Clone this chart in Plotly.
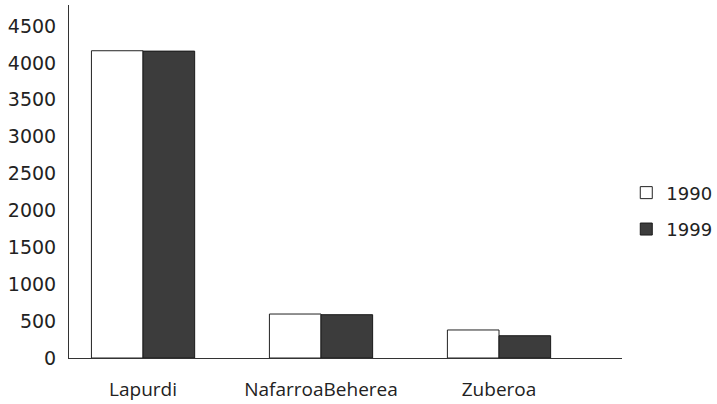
import plotly.graph_objects as go

categories = ["Lapurdi", "NafarroaBeherea", "Zuberoa"]
values_1990 = [4165, 596, 380]
values_1999 = [4160, 587, 302]
series_names = ["1990", "1999"]

fig = go.Figure()
fig.add_trace(go.Bar(
    x=categories, y=values_1990, name=series_names[0], legendgroup="a",
    marker=dict(color="white", line=dict(color="#222222", width=1)),
))
fig.add_trace(go.Bar(
    x=categories, y=values_1999, name=series_names[1], legendgroup="b",
    marker=dict(color="#3c3c3c", line=dict(color="#1a1a1a", width=1)),
))

fig.update_layout(
    width=717, height=404,
    margin=dict(l=69, r=0, t=5, b=46, autoexpand=False),
    paper_bgcolor="white", plot_bgcolor="white",
    barmode="group", bargap=0.42, bargroupgap=0,
    font=dict(family="Open Sans", size=19, color="#222222"),
    legend=dict(x=0.860, y=0.52, xanchor="left", yanchor="top",
                tracegroupgap=10, itemwidth=30,
                font=dict(family="DejaVu Sans", size=18),
                bgcolor="rgba(0,0,0,0)"),
    showlegend=True,
)
fig.update_xaxes(
    domain=[0, 553 / 648],
    range=[-0.416, 2.691], showline=True, linecolor="#333333", linewidth=1,
    ticks="", showgrid=False, tickfont=dict(family="Open Sans", size=19),
    ticklabelstandoff=14, automargin=False,
)
fig.update_yaxes(
    range=[0, 4785], tickmode="array",
    tickvals=[0, 500, 1000, 1500, 2000, 2500, 3000, 3500, 4000, 4500],
    showline=True, linecolor="#333333", linewidth=1, ticks="",
    showgrid=False, zeroline=False,
    tickfont=dict(family="DejaVu Sans", size=19),
    ticklabelstandoff=8, automargin=False,
)

fig.write_html("out.html", post_script="document.body.style.margin='0';",
               config={"displayModeBar": False})
